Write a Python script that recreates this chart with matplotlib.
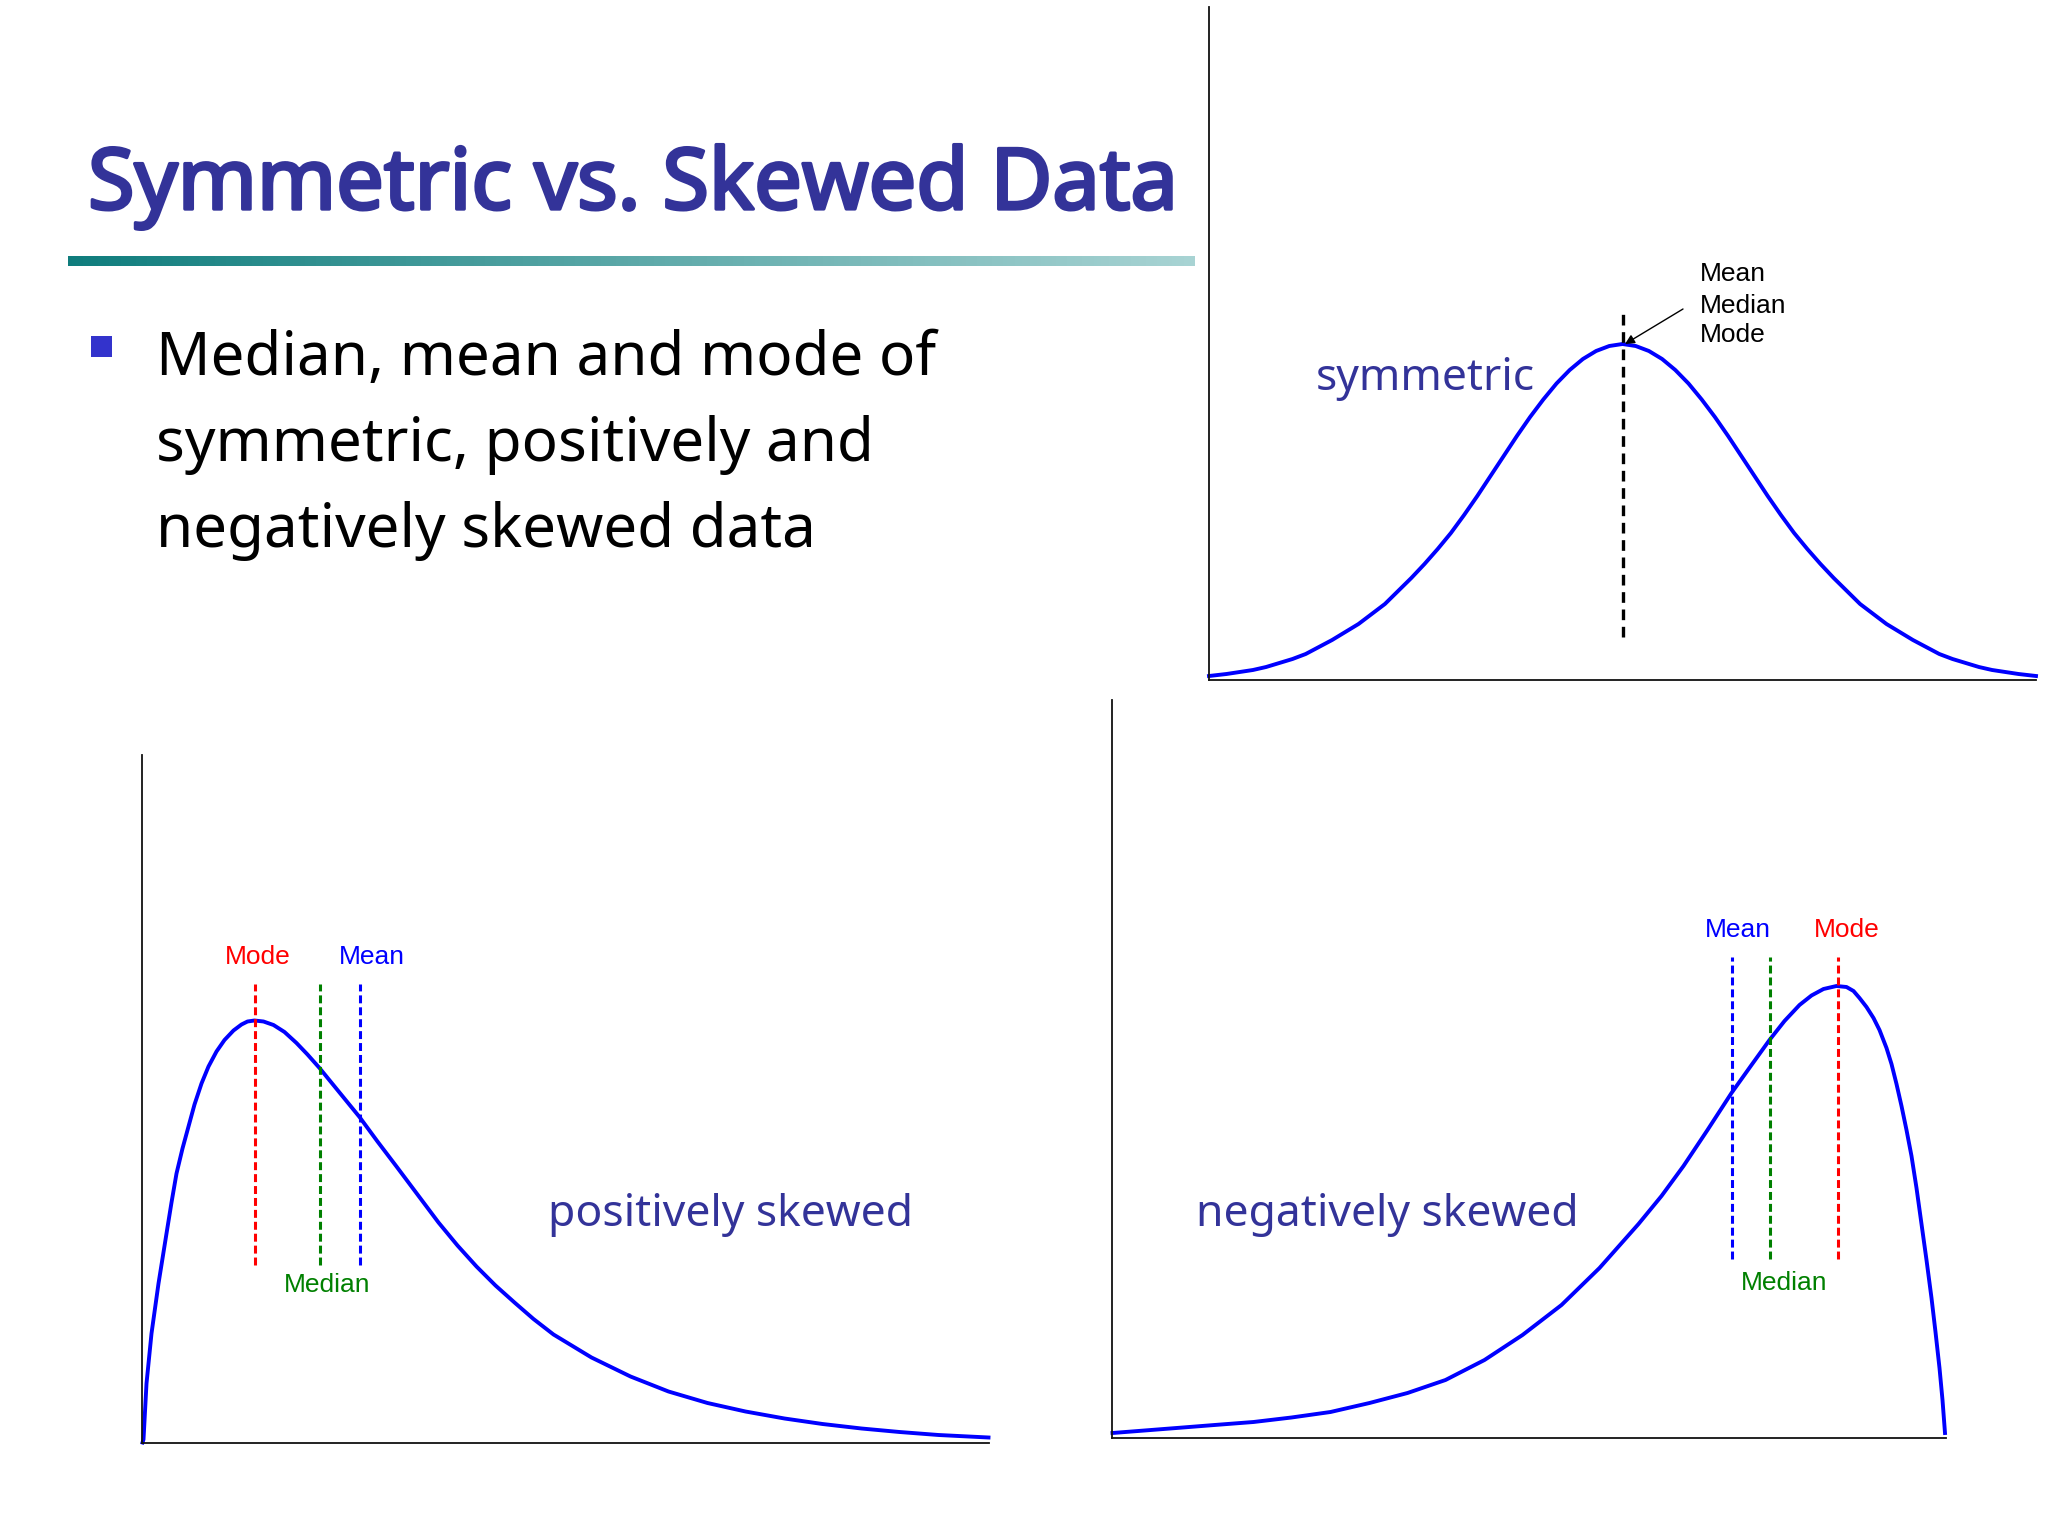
import numpy as np
import matplotlib
matplotlib.use("Agg")
import matplotlib.pyplot as plt
import matplotlib.patheffects as pe
from matplotlib.patches import Rectangle

# curve samples, in pixel units of each panel
# symmetric curve: offset from the centre and height (same on both sides)
sym_dx = [0, 13.2, 26.4, 39.6, 52.8, 66, 79.2, 92.4, 105.6, 118.8, 132, 145.2, 158.4, 171.6,
          184.8, 198, 211.2, 224.4, 237.6, 250.8, 264, 277.2, 290.4, 303.6, 316.8, 330,
          343.2, 356.4, 369.6, 382.8, 396, 413.5]
sym_h = [336, 334, 329, 321, 310, 296.5, 280.5, 263, 244, 224, 204, 184, 165, 147,
         131, 116, 102, 89, 76, 66, 56, 48, 40, 33, 26, 21,
         17, 13, 10, 8, 6, 4]

pos_x = [1, 2, 5, 10, 17, 25, 30, 35, 41, 47, 53, 60, 67, 75, 83, 92, 100, 106, 113, 122,
         132, 143, 155, 166, 178, 198, 218, 236, 255, 276, 297, 316, 335, 354, 373, 392,
         412, 450, 489, 527, 566, 604, 643, 681, 720, 758, 797, 847]
pos_y = [0, 3, 59, 109, 159, 209, 240, 269, 294, 316, 338, 359, 376, 391, 402.5, 412, 418, 421, 422, 421,
         417.5, 410.5, 399.5, 388, 374.5, 350, 325.5, 301, 276, 248, 220, 197, 176, 157, 140, 123.5,
         108, 85, 66, 51, 39.5, 31, 24, 18.5, 14, 10.5, 7.5, 5]

neg_x = [1, 65, 103, 142, 180, 219, 258, 296, 334, 373, 411, 450, 488, 527, 550, 572, 596, 620,
         640, 658, 673, 688, 700, 712, 725, 735, 742, 748, 755, 762, 768, 775, 780, 785, 790,
         795, 800, 805, 810, 815, 820, 824, 828, 831, 833.5]
neg_y = [5, 10, 13, 16, 20.5, 26, 35, 45, 58, 78, 103, 133, 170, 214, 242, 272, 308, 345,
         373, 398, 417, 433, 442.5, 449, 452, 451, 447, 440, 431, 420, 408, 390, 374, 354, 332,
         308, 282, 250, 214, 178, 140, 106, 70, 38, 5]

# marker lines: x position, (bottom, top)
sym_center = 413.5
sym_span = (43, 372)
pos_marks = {"Mode": 113.5, "Median": 178.5, "Mean": 218.5}
pos_span = (178, 459)
neg_marks = {"Mean": 620.5, "Median": 658.5, "Mode": 726}
neg_span = (179, 481)

title = "Symmetric vs. Skewed Data"
bullet_lines = ["Median, mean and mode of", "symmetric, positively and", "negatively skewed data"]

W, H = 2048, 1536
NAVY = "#333399"
CURVE = "#0000ff"
MARK_COL = {"Mode": "#ff0000", "Median": "#008000", "Mean": "#0000ff"}
LABEL_FONT = "Liberation Sans"


def fx(px):
    return px / W


def fy(py):
    return 1 - py / H


def panel(fig, x0, y0, x1, y1):
    ax = fig.add_axes([fx(x0), fy(y1), (x1 - x0) / W, (y1 - y0) / H])
    ax.set_xlim(0, x1 - x0)
    ax.set_ylim(0, y1 - y0)
    for s in ("top", "right"):
        ax.spines[s].set_visible(False)
    for s in ("left", "bottom"):
        ax.spines[s].set_linewidth(1.3)
        ax.spines[s].set_color("#111111")
    ax.set_xticks([])
    ax.set_yticks([])
    ax.patch.set_alpha(0)
    return ax


fig = plt.figure(figsize=(20.48, 15.36), dpi=100)

# title (regular face thickened with a stroke), rule, bullet
fig.text(fx(88), fy(209), title, fontsize=61, color=NAVY, family="Noto Sans",
         va="baseline", ha="left",
         path_effects=[pe.Stroke(linewidth=2.4, foreground=NAVY), pe.Normal()])

gax = fig.add_axes([fx(68), fy(266.5), (1195 - 68) / W, 10.5 / H])
c0 = np.array([0.06, 0.49, 0.49])
c1 = np.array([0.66, 0.83, 0.83])
t = np.linspace(0, 1, 300)[None, :, None]
gax.imshow(c0 + (c1 - c0) * t, aspect="auto")
gax.axis("off")

fig.patches.append(Rectangle((fx(91), fy(357)), 21 / W, 21 / H, transform=fig.transFigure,
                             facecolor="#3333cc", edgecolor="none"))
for i, line in enumerate(bullet_lines):
    fig.text(fx(156), fy(375 + 86 * i), line, fontsize=43.3, color="black",
             family="Noto Sans", va="baseline", ha="left")

# symmetric
sym_x = [sym_center - d for d in sym_dx[::-1]] + [sym_center + d for d in sym_dx[1:]]
sym_y = sym_h[::-1] + sym_h[1:]
ax = panel(fig, 1209, 7, 2036, 680)
ax.plot(sym_x, sym_y, color=CURVE, lw=2.8, clip_on=False)
ax.plot([sym_center, sym_center], sym_span, color="black", lw=2.4, ls=(0, (3.2, 2.0)))
ax.annotate("", xy=(416, 336), xytext=(474, 371),
            arrowprops=dict(arrowstyle="-|>", color="black", lw=1.0, mutation_scale=14,
                            shrinkA=0, shrinkB=0))
for lab, yb in zip(["Mean", "Median", "Mode"], [399, 367, 338]):
    ax.text(490.5, yb, lab, fontsize=19, family=LABEL_FONT, color="black",
            va="baseline", ha="left")
ax.text(106.5, 290, "symmetric", fontsize=32, family="Noto Sans", color=NAVY,
        va="baseline", ha="left")

# positively skewed
ax = panel(fig, 141.5, 755, 989, 1442.5)
ax.plot(pos_x, pos_y, color=CURVE, lw=2.8, clip_on=False)
for lab, xv in pos_marks.items():
    ax.plot([xv, xv], pos_span, color=MARK_COL[lab], lw=2.2, ls=(0, (2.6, 1.3)))
ax.text(pos_marks["Mode"] + 3, 479, "Mode", fontsize=19, family=LABEL_FONT,
        color=MARK_COL["Mode"], ha="center", va="baseline")
ax.text(pos_marks["Mean"] + 12, 479, "Mean", fontsize=19, family=LABEL_FONT,
        color=MARK_COL["Mean"], ha="center", va="baseline")
ax.text(pos_marks["Median"] + 7.5, 150, "Median", fontsize=19, family=LABEL_FONT,
        color=MARK_COL["Median"], ha="center", va="baseline")
ax.text(406.5, 216.5, "positively skewed", fontsize=32, family="Noto Sans", color=NAVY,
        va="baseline", ha="left")

# negatively skewed
ax = panel(fig, 1111.5, 700, 1946, 1438)
ax.plot(neg_x, neg_y, color=CURVE, lw=2.8, clip_on=False)
for lab, xv in neg_marks.items():
    ax.plot([xv, xv], neg_span, color=MARK_COL[lab], lw=2.2, ls=(0, (2.6, 1.3)))
ax.text(neg_marks["Mean"] + 5.5, 501, "Mean", fontsize=19, family=LABEL_FONT,
        color=MARK_COL["Mean"], ha="center", va="baseline")
ax.text(neg_marks["Mode"] + 9.5, 501, "Mode", fontsize=19, family=LABEL_FONT,
        color=MARK_COL["Mode"], ha="center", va="baseline")
ax.text(neg_marks["Median"] + 14.5, 148, "Median", fontsize=19, family=LABEL_FONT,
        color=MARK_COL["Median"], ha="center", va="baseline")
ax.text(84.5, 212, "negatively skewed", fontsize=32, family="Noto Sans", color=NAVY,
        va="baseline", ha="left")

fig.savefig("out.png", dpi=100, facecolor="white")
